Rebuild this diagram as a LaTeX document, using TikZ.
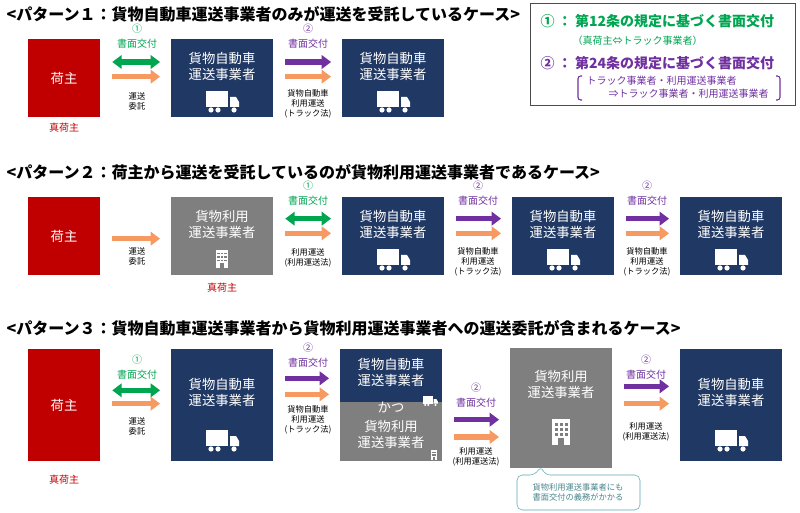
\documentclass[tikz,border=0pt]{standalone}
\usepackage{fontspec}
\setmainfont{Noto Sans CJK JP}
\usetikzlibrary{arrows.meta,positioning}
\definecolor{shred}{HTML}{C00000}
\definecolor{trblue}{HTML}{203864}
\definecolor{ubgray}{HTML}{7F7F7F}
\definecolor{docgreen}{HTML}{00A550}
\definecolor{docpurple}{HTML}{7030A0}
\definecolor{reqorange}{HTML}{F79A62}
\definecolor{notecyan}{HTML}{5BA8B0}
\tikzset{
  box/.style={minimum width=76.5pt,minimum height=58.5pt,inner sep=0pt},
  redbox/.style={box,fill=shred,minimum width=54pt},
  bluebox/.style={box,fill=trblue},
  graybox/.style={box,fill=ubgray},
  boxtext/.style={text=white,font=\fontsize{10}{12}\selectfont,align=center},
  title/.style={font=\fontsize{12}{14}\selectfont\bfseries,anchor=west},
  small/.style={font=\fontsize{6.2}{7.5}\selectfont,align=center},
  doc/.style={font=\fontsize{7.5}{11}\selectfont,align=center},
  arr/.style={line width=4pt,-{Triangle[length=7pt,width=10pt]}},
  greenarr/.style={arr,docgreen,{Triangle[length=7pt,width=10pt]}-{Triangle[length=7pt,width=10pt]}},
  purplearr/.style={arr,docpurple},
  orangearr/.style={arr,reqorange},
  truck/.pic={
    \fill[white] (-18,-8) rectangle (4,8);
    \fill[white] (6,-2) -- (12,-2) -- (15,3) -- (15,8) -- (6,8) -- cycle;
    \fill[white] (-13,11) circle (2.6) (-6,11) circle (2.6) (10,11) circle (2.6);},
  building/.pic={
    \fill[white] (-9,-13) rectangle (9,13);
    \foreach \r in {-9,-4,1} \foreach \c in {-5,0,5}
      \fill[ubgray] (\c-1.5,\r) rectangle (\c+1.5,\r+2.5);
    \fill[ubgray] (-3,6) rectangle (3,13);},
}
\begin{document}
\begin{tikzpicture}[x=0.75pt,y=-0.75pt]
\useasboundingbox (0,0) rectangle (800,513);
% pattern 1
\node[title] (t1) at (2,14) {<パターン１：貨物自動車運送事業者のみが運送を受託しているケース>};
\node[redbox] (a1) at (64,78) {};
\node[boxtext] (a1t) at (64,78) {荷主};
\node[text=shred,doc] (a1s) at (64,128) {真荷主};
\node[bluebox] (a2) at (222,78) {};
\node[boxtext] (a2t) at (222,66) {貨物自動車\\運送事業者};
\pic at (224,99) {truck};
\node[bluebox] (a3) at (393,78) {};
\node[boxtext] (a3t) at (393,66) {貨物自動車\\運送事業者};
\pic at (395,99) {truck};
\draw[greenarr] ([xshift=9pt,yshift=12pt]a2.west-|a1.east) -- ([xshift=-8pt,yshift=12pt]a2.west);
\draw[orangearr] ([xshift=9pt,yshift=1pt]a2.west-|a1.east) -- ([xshift=-8pt,yshift=1pt]a2.west);
\node[doc,text=docgreen] (a12n) at (137,36) {①\\書面交付};
\node[small] (a12b) at (137,101) {運送\\委託};
\draw[purplearr] ([xshift=9pt,yshift=12pt]a2.east) -- ([xshift=-8pt,yshift=12pt]a3.west);
\draw[orangearr] ([xshift=9pt,yshift=1pt]a2.east) -- ([xshift=-8pt,yshift=1pt]a3.west);
\node[doc,text=docpurple] (a23n) at (308,36) {②\\書面交付};
\node[small] (a23b) at (308,104) {貨物自動車\\利用運送\\(トラック法)};
% legend
\draw[black!70] (530,3) rectangle (795,105);
\node[anchor=west,text=docgreen,font=\fontsize{10.5}{12}\selectfont\bfseries] (l1) at (536,21) {①\ ：\ 第12条の規定に基づく書面交付};
\node[anchor=west,text=docgreen,font=\fontsize{7.5}{9}\selectfont] (l1b) at (568,41) {（真荷主⇔トラック事業者）};
\node[anchor=west,text=docpurple,font=\fontsize{10.5}{12}\selectfont\bfseries] (l2) at (536,63) {②\ ：\ 第24条の規定に基づく書面交付};
\node[anchor=west,text=docpurple,font=\fontsize{7.5}{10}\selectfont,align=left] (l2b) at (582,87) {トラック事業者・利用運送事業者\\\hspace{2.2em}⇒トラック事業者・利用運送事業者};
\draw[docpurple,thick,rounded corners=2pt] (582,76) -- (578,76) -- (578,100) -- (582,100);
\draw[docpurple,thick,rounded corners=2pt] (776,76) -- (780,76) -- (780,100) -- (776,100);
% pattern 2
\node[title] (t2) at (2,172) {<パターン２：荷主から運送を受託しているのが貨物利用運送事業者であるケース>};
\node[redbox] (b1) at (64,236) {};
\node[boxtext] (b1t) at (64,236) {荷主};
\node[graybox] (b2) at (222,236) {};
\node[boxtext] (b2t) at (222,224) {貨物利用\\運送事業者};
\pic[scale=0.7] at (222,259) {building};
\node[text=shred,doc] (b2s) at (222,288) {真荷主};
\node[bluebox] (b3) at (393,236) {};
\node[bluebox] (b4) at (563,236) {};
\node[bluebox] (b5) at (731,236) {};
\foreach \n/\x in {b3/393,b4/563,b5/731}{
  \node[boxtext] (\n t) at (\x,224) {貨物自動車\\運送事業者};
  \pic at (\x+2,257) {truck};}
\draw[orangearr] ([xshift=9pt,yshift=-2pt]b2.west-|b1.east) -- ([xshift=-8pt,yshift=-2pt]b2.west);
\node[small] (b12b) at (137,256) {運送\\委託};
\draw[greenarr] ([xshift=9pt,yshift=13pt]b2.east) -- ([xshift=-8pt,yshift=13pt]b3.west);
\draw[orangearr] ([xshift=9pt,yshift=2pt]b2.east) -- ([xshift=-8pt,yshift=2pt]b3.west);
\node[doc,text=docgreen] (b23n) at (308,193) {①\\書面交付};
\node[small] (b23b) at (308,258) {利用運送\\(利用運送法)};
\foreach \p/\q/\x in {b3/b4/478,b4/b5/647}{
  \draw[purplearr] ([xshift=9pt,yshift=13pt]\p.east) -- ([xshift=-8pt,yshift=13pt]\q.west);
  \draw[orangearr] ([xshift=9pt,yshift=2pt]\p.east) -- ([xshift=-8pt,yshift=2pt]\q.west);
  \node[doc,text=docpurple] (\p n) at (\x,193) {②\\書面交付};
  \node[small] (\p b) at (\x,262) {貨物自動車\\利用運送\\(トラック法)};}
% pattern 3
\node[title] (t3) at (2,328) {<パターン３：貨物自動車運送事業者から貨物利用運送事業者への運送委託が含まれるケース>};
\node[redbox,minimum height=84pt] (c1) at (64,405) {};
\node[boxtext] (c1t) at (64,405) {荷主};
\node[text=shred,doc] (c1s) at (64,480) {真荷主};
\node[bluebox,minimum height=84pt] (c2) at (222,405) {};
\node[boxtext] (c2t) at (222,392) {貨物自動車\\運送事業者};
\pic at (224,438) {truck};
\node[graybox,minimum height=84pt] (c3) at (391,405) {};
\fill[trblue] (c3.north west) rectangle ([yshift=-40pt]c3.north east);
\node[boxtext] (c3t) at (391,372) {貨物自動車\\運送事業者};
\node[boxtext] (c3k) at (391,407) {かつ};
\node[boxtext] (c3u) at (391,434) {貨物利用\\運送事業者};
\pic[scale=0.45] at (431,400) {truck};
\pic[scale=0.35] at (434,455) {building};
\node[graybox,minimum height=90pt] (c4) at (561,408) {};
\node[boxtext] (c4t) at (561,384) {貨物利用\\運送事業者};
\pic at (561,432) {building};
\node[bluebox,minimum height=84pt] (c5) at (731,405) {};
\node[boxtext] (c5t) at (731,392) {貨物自動車\\運送事業者};
\pic at (733,438) {truck};
\draw[greenarr] ([xshift=9pt,yshift=11pt]c2.west-|c1.east) -- ([xshift=-8pt,yshift=11pt]c2.west);
\draw[orangearr] ([xshift=9pt,yshift=1pt]c2.west-|c1.east) -- ([xshift=-8pt,yshift=1pt]c2.west);
\node[doc,text=docgreen] (c12n) at (137,367) {①\\書面交付};
\node[small] (c12b) at (137,426) {運送\\委託};
\draw[purplearr] ([xshift=9pt,yshift=20pt]c2.east) -- ([xshift=-8pt,yshift=20pt]c3.west);
\draw[orangearr] ([xshift=9pt,yshift=8pt]c2.east) -- ([xshift=-8pt,yshift=8pt]c3.west);
\node[doc,text=docpurple] (c23n) at (308,355) {②\\書面交付};
\node[small] (c23b) at (308,420) {貨物自動車\\利用運送\\(トラック法)};
\draw[purplearr] ([xshift=9pt,yshift=-11pt]c3.east) -- ([xshift=-8pt,yshift=-11pt]c3.east-|c4.west);
\draw[orangearr] ([xshift=9pt,yshift=-24pt]c3.east) -- ([xshift=-8pt,yshift=-24pt]c3.east-|c4.west);
\node[doc,text=docpurple] (c34n) at (476,395) {②\\書面交付};
\node[small] (c34b) at (476,457) {利用運送\\(利用運送法)};
\draw[purplearr] ([xshift=9pt,yshift=14pt]c5.west-|c4.east) -- ([xshift=-8pt,yshift=14pt]c5.west);
\draw[orangearr] ([xshift=9pt,yshift=1pt]c5.west-|c4.east) -- ([xshift=-8pt,yshift=1pt]c5.west);
\node[doc,text=docpurple] (c45n) at (646,367) {②\\書面交付};
\node[small] (c45b) at (646,432) {利用運送\\(利用運送法)};
% note
\draw[notecyan,fill=white,rounded corners=4pt] (517,475) -- (535,475) -- (541,466) -- (545,475) -- (640,475) -- (640,510) -- (517,510) -- cycle;
\node[small,text=notecyan!80!black] (note) at (578,492) {貨物利用運送事業者にも\\書面交付の義務がかかる};
\end{tikzpicture}
\end{document}
